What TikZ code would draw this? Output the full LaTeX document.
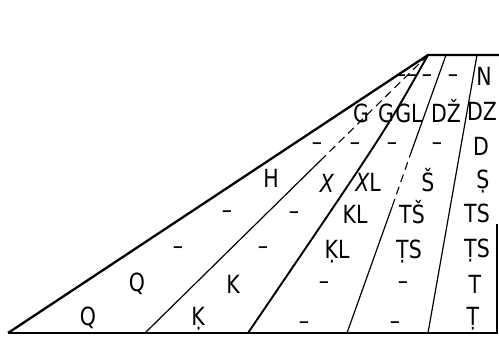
\documentclass[tikz,border=0pt]{standalone}
\usepackage{fontspec}
\newfontfamily\lettr{DejaVu Sans}[FakeStretch=0.82]

\begin{document}
\begin{tikzpicture}[x=0.5pt,y=-0.5pt,
    lbl/.style={font=\lettr\fontsize{12.5}{13}\selectfont, anchor=base, inner sep=0pt},
    heavy/.style={line width=1.15pt},
    light/.style={line width=0.6pt},
    broken/.style={line width=0.55pt, dash pattern=on 4pt off 2.5pt}]
                \useasboundingbox (0,0) rectangle (499,338);

                % outline
                \coordinate (apex) at (428,55);
                \coordinate (foot) at (8,333);
                \coordinate (topr) at (499,55);
                \coordinate (botr) at (497,333);
                \coordinate (edge) at (497,224);
                \draw[heavy] (foot) -- (apex) -- (topr);
                \draw[line width=0.8pt] (foot) -- (botr) -- (edge);

                % dividing lines
                \coordinate (a1) at (321,160);
                \coordinate (a2) at (145,333);
                \draw[broken] (apex) -- (a1);
                \draw[light] (a1) -- (a2);

                \coordinate (b2) at (248,333);
                \draw[line width=0.95pt] (apex) .. controls (386,130) .. (b2);

                \coordinate (c0) at (446,55);
                \coordinate (c1) at (412,150);
                \coordinate (c2) at (392,207);
                \coordinate (c3) at (347,333);
                \draw[light] (c0) -- (c1);
                \draw[broken] (c1) -- (c2);
                \draw[light] (c2) -- (c3);

                \coordinate (d0) at (477,55);
                \coordinate (d1) at (428,333);
                \draw[light] (d0) -- (d1);

                % row 1
                \node[lbl] (r1a) at (401,82) {–};
                \node[lbl] (r1b) at (412,82) {–};
                \node[lbl] (r1c) at (427,82) {–};
                \node[lbl] (r1d) at (453,82) {–};
                \node[lbl] (r1e) at (484,85) {N};
                % row 2
                \node[lbl] (r2a) at (361,122) {G};
                \node[lbl] (r2b) at (386,122) {G};
                \node[lbl] (r2c) at (409,122) {GL};
                \node[lbl] (r2d) at (446,122) {DŽ};
                \node[lbl] (r2e) at (482,120) {DZ};
                % row 3
                \node[lbl] (r3a) at (317,150) {–};
                \node[lbl] (r3b) at (355,150) {–};
                \node[lbl] (r3c) at (392,150) {–};
                \node[lbl] (r3d) at (437,150) {–};
                \node[lbl] (r3e) at (481,155) {D};
                % row 4
                \node[lbl] (r4a) at (271,187) {H};
                \node[lbl] (r4b) at (327,192) {\itshape X};
                \node[lbl] (r4c) at (368,191) {{\itshape X}L};
                \node[lbl] (r4d) at (428,191) {Š};
                \node[lbl] (r4e) at (483,188) {Ṣ};
                % row 5
                \node[lbl] (r5a) at (227,218) {–};
                \node[lbl] (r5b) at (294,219) {–};
                \node[lbl] (r5c) at (355,223) {KL};
                \node[lbl] (r5d) at (412,223) {TŠ};
                \node[lbl] (r5e) at (477,222) {TS};
                % row 6
                \node[lbl] (r6a) at (178,254) {–};
                \node[lbl] (r6b) at (263,254) {–};
                \node[lbl] (r6c) at (337,258) {ḲL};
                \node[lbl] (r6d) at (409,258) {ṬS};
                \node[lbl] (r6e) at (477,257) {ṬS};
                % row 7
                \node[lbl] (r7a) at (137,291) {Q};
                \node[lbl] (r7b) at (233,293) {K};
                \node[lbl] (r7c) at (324,289) {–};
                \node[lbl] (r7d) at (403,289) {–};
                \node[lbl] (r7e) at (475,293) {T};
                % row 8
                \node[lbl] (r8a) at (88,325) {Q};
                \node[lbl] (r8b) at (198,325) {Ḳ};
                \node[lbl] (r8c) at (304,329) {–};
                \node[lbl] (r8d) at (395,329) {–};
                \node[lbl] (r8e) at (473,325) {Ṭ};
            \end{tikzpicture}
\end{document}
